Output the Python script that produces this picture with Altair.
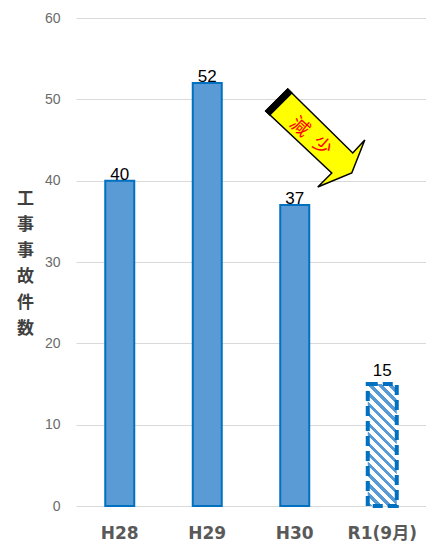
import altair as alt
import pandas as pd

# ---- data ----
categories = ["H28", "H29", "H30", "R1(9月)"]
counts = [40, 52, 37, 15]
partial = [False, False, False, True]
y_ticks = [0, 10, 20, 30, 40, 50, 60]
y_title = ["工", "事", "事", "故", "件", "数"]
arrow_text = ["減", "少"]
arrow_anchor_cat = ["H30"]
arrow_anchor_val = [45]

df = pd.DataFrame({"cat": categories, "val": counts, "partial": partial})
df_full = df[~df["partial"]]
df_part = df[df["partial"]]
df_arrow = pd.DataFrame({"cat": arrow_anchor_cat, "val": arrow_anchor_val})

BLUE = "#5B9BD5"
EDGE = "#0070C0"

x_enc = alt.X(
    "cat:N",
    sort=categories,
    scale=alt.Scale(domain=categories, paddingInner=0, paddingOuter=0),
    axis=alt.Axis(
        title=None,
        labelAngle=0,
        labelFont="DejaVu Sans, Noto Sans CJK JP",
        labelFontWeight="bold",
        labelFontSize=17,
        labelColor="#595959",
        labelBaseline="middle",
        labelPadding=27,
        domain=False,
        ticks=False,
    ),
)
y_enc = alt.Y(
    "val:Q",
    scale=alt.Scale(domain=[0, 60], nice=False),
    axis=alt.Axis(
        values=y_ticks,
        title=y_title,
        titleAngle=0,
        titleAlign="center",
        titleBaseline="middle",
        titleX=-51,
        titleY=180,
        titleFont="Noto Sans CJK JP",
        titleFontWeight="bold",
        titleFontSize=17,
        titleColor="#404040",
        titleLineHeight=26,
        labelFont="Liberation Sans",
        labelFontSize=14,
        labelColor="#6b6b6b",
        labelPadding=16,
        domain=False,
        ticks=False,
        grid=True,
        gridColor="#D9D9D9",
        gridWidth=1,
    ),
)

bars = alt.Chart(df_full).mark_bar(
    size=29, fill=BLUE, stroke=EDGE, strokeWidth=2
).encode(x=x_enc, y=y_enc)

# diagonal hatch via a striped linear gradient
N = 15
stops = []
for i in range(N):
    stops.append(alt.GradientStop(offset=i / N, color=BLUE))
    stops.append(alt.GradientStop(offset=(i + 0.45) / N, color=BLUE))
    stops.append(alt.GradientStop(offset=(i + 0.45) / N, color="#FFFFFF"))
    stops.append(alt.GradientStop(offset=(i + 1) / N, color="#FFFFFF"))
hatch = alt.LinearGradient(
    gradient="linear", stops=stops, x1=0, y1=1, x2=0.2785, y2=-0.1715
)
bar_part = alt.Chart(df_part).mark_bar(
    size=29, fill=hatch, stroke=EDGE, strokeWidth=4, strokeDash=[10, 5]
).encode(x=x_enc, y=y_enc)

labels = alt.Chart(df_full).mark_text(
    font="Liberation Sans", fontSize=17, color="#000000", baseline="alphabetic", dy=-1
).encode(x=x_enc, y=y_enc, text="val:Q")
label_part = alt.Chart(df_part).mark_text(
    font="Liberation Sans", fontSize=17, color="#000000", baseline="alphabetic", dy=-8
).encode(x=x_enc, y=y_enc, text="val:Q")

arrow_path = "M -29 -29 L -7 -51 L 58 13 L 70 0 L 57 33 L 23 47 L 37 33 Z"
cap_path = "M -29 -29 L -7 -51 L -3 -47 L -25 -25 Z"
arrow = alt.Chart(df_arrow).mark_point(
    shape=arrow_path, size=4, filled=True, fill="#FFFF00", stroke="#000000",
    strokeWidth=1.5, opacity=1, fillOpacity=1, strokeOpacity=1
).encode(x=x_enc, y=y_enc)
cap = alt.Chart(df_arrow).mark_point(
    shape=cap_path, size=4, filled=True, fill="#000000", stroke="#000000",
    strokeWidth=1.5, opacity=1, fillOpacity=1, strokeOpacity=1
).encode(x=x_enc, y=y_enc)

t1 = alt.Chart(df_arrow).mark_text(
    text=arrow_text[0], font="Noto Sans CJK JP", fontSize=19, color="#FF0000",
    angle=42, align="center", baseline="middle", dx=-5, dy=-13
).encode(x=x_enc, y=y_enc)
t2 = alt.Chart(df_arrow).mark_text(
    text=arrow_text[1], font="Noto Sans CJK JP", fontSize=19, color="#FF0000",
    angle=42, align="center", baseline="middle", dx=24, dy=-13.5
).encode(x=x_enc, y=y_enc)

chart = alt.layer(bars, bar_part, labels, label_part, arrow, cap, t1, t2).properties(
    width=350,
    height=488,
    autosize=alt.AutoSizeParams(type="none"),
    padding={"left": 76, "top": 18, "right": 0, "bottom": 41},
    background="#FFFFFF",
).configure_view(stroke=None)

chart.save("out.html", embed_options={"renderer": "svg", "actions": False})
